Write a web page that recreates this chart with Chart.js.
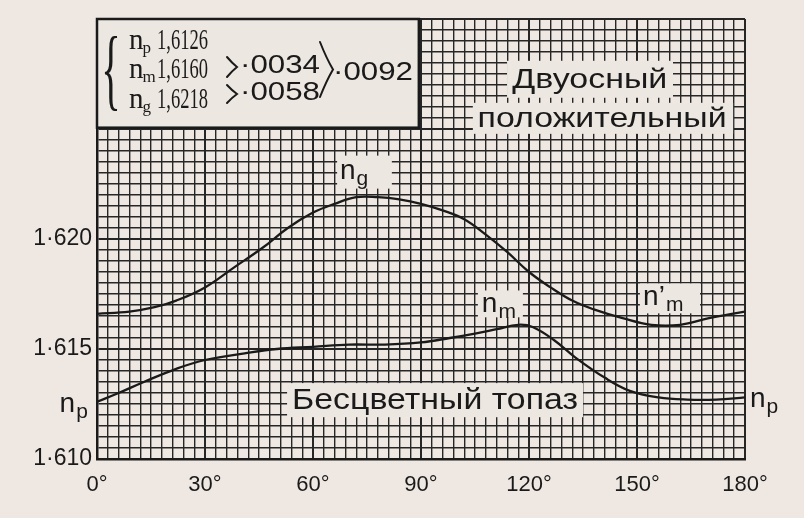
<!DOCTYPE html>
<html><head><meta charset="utf-8">
<script src="https://cdn.jsdelivr.net/npm/chart.js@4.4.1/dist/chart.umd.min.js"></script>
<style>html,body{margin:0;padding:0;background:#efe8e2;}canvas{display:block}</style>
</head><body>
<canvas id="c" width="804" height="518"></canvas>
<script>
// ---- data ----
const angleTicks = [0, 30, 60, 90, 120, 150, 180];
const angleTickLabels = ['0°', '30°', '60°', '90°', '120°', '150°', '180°'];
const indexTicks = [1.610, 1.615, 1.620];
const indexTickLabels = ['1·610', '1·615', '1·620'];

const ngAngles = [0, 9, 16, 22, 30, 38, 46, 53, 60, 66, 72, 78, 84, 90, 96, 102, 108, 114, 120, 126, 132, 138, 146, 154, 162, 170, 180];
const ngValues = [1.6166, 1.6167, 1.6169, 1.6172, 1.6178, 1.6187, 1.6196, 1.6205, 1.6212, 1.6216, 1.6219, 1.6219, 1.6218, 1.6216, 1.6213, 1.6209, 1.6202, 1.6194, 1.6185, 1.6178, 1.6172, 1.6168, 1.6164, 1.6161, 1.6161, 1.6164, 1.6167];

const npAngles = [0, 6, 13, 22, 30, 41, 50, 60, 70, 80, 90, 98, 105, 111, 117, 121, 127, 133, 141, 148, 156, 164, 172, 180];
const npValues = [1.6126, 1.6130, 1.6135, 1.6141, 1.6145, 1.6148, 1.6150, 1.6151, 1.6152, 1.6152, 1.6153, 1.6155, 1.6157, 1.6159, 1.6161, 1.6160, 1.6154, 1.6146, 1.6137, 1.6131, 1.6128, 1.6127, 1.6127, 1.6128];

const legendRows = [['n', 'p', '1,6126'], ['n', 'm', '1,6160'], ['n', 'g', '1,6218']];
const legendDiffs = ['·0034', '·0058'];
const legendTotal = '·0092';

// ---- annotation layout (data units) ----
const textNotes = [
  {text: 'Двуосный', at: [136.9, 1.62723], width: 155, size: 28, box: [[113.9, 1.62810], [160.0, 1.62642]]},
  {text: 'положительный', at: [140.3, 1.62546], width: 249, size: 28, box: [[104.4, 1.62619], [176.7, 1.62478]]},
  {text: 'Бесцветный топаз', at: [93.9, 1.61263], width: 286, size: 29, box: [[52.8, 1.61345], [135.0, 1.61190]]}
];
const indexNotes = [
  {main: 'n', sub: 'g', at: [67.5, 1.62274], box: [[66.7, 1.62379], [81.9, 1.62229]]},
  {main: 'n', sub: 'm', at: [106.9, 1.61667], box: [[105.8, 1.61766], [118.3, 1.61644]]},
  {main: 'n’', sub: 'm', at: [151.7, 1.61698], box: [[150.8, 1.61798], [167.5, 1.61662]]},
  {main: 'n', sub: 'p', at: [181.4, 1.61236]},
  {main: 'n', sub: 'p', at: [-10.4, 1.61213]}
];
const legendBoxCorner = [89.4, 1.62506];

const INK = '#1a1a1a', PAPER = '#efe8e2', BOXPAPER = '#ede7e1', GRID = '#262626';
const SANS = 'Liberation Sans', SERIF = 'Liberation Serif';

function fitText(ctx, text, cx, cy, font, width) {
  ctx.save();
  ctx.font = font; ctx.textBaseline = 'middle'; ctx.textAlign = 'left';
  const w = ctx.measureText(text).width;
  ctx.translate(cx - width / 2, cy);
  ctx.scale(width / w, 1);
  ctx.fillText(text, 0, 0);
  ctx.restore();
}
function fitTextLeft(ctx, text, x, cy, font, width) { fitText(ctx, text, x + width / 2, cy, font, width); }

const paperPlugin = {
  id: 'paper',
  beforeDraw(chart) {
    const c = chart.ctx;
    c.save(); c.fillStyle = PAPER; c.fillRect(0, 0, chart.width, chart.height); c.restore();
  },
  afterDatasetsDraw(chart) {
    const c = chart.ctx, xs = chart.scales.x, ys = chart.scales.y;
    const px = v => xs.getPixelForValue(v), py = v => ys.getPixelForValue(v);
    c.save();
    c.fillStyle = INK;
    textNotes.forEach(n => {
      const x1 = px(n.box[0][0]), y1 = py(n.box[0][1]), x2 = px(n.box[1][0]), y2 = py(n.box[1][1]);
      c.fillStyle = BOXPAPER; c.fillRect(x1, y1, x2 - x1, y2 - y1);
      c.fillStyle = INK;
      fitText(c, n.text, px(n.at[0]), py(n.at[1]), n.size + 'px "' + SANS + '"', n.width);
    });
    indexNotes.forEach(n => {
      if (n.box) {
        const x1 = px(n.box[0][0]), y1 = py(n.box[0][1]), x2 = px(n.box[1][0]), y2 = py(n.box[1][1]);
        c.fillStyle = BOXPAPER; c.fillRect(x1, y1, x2 - x1, y2 - y1);
      }
      c.fillStyle = INK;
      c.textBaseline = 'alphabetic'; c.textAlign = 'left';
      const x = px(n.at[0]), y = py(n.at[1]);
      c.font = '28px "' + SANS + '"';
      c.fillText(n.main, x, y);
      const w = c.measureText(n.main).width;
      c.font = '21px "' + SANS + '"';
      c.fillText(n.sub, x + w + 1, y + 6);
    });
    // legend box
    const L = chart.chartArea.left, T = chart.chartArea.top;
    const R = px(legendBoxCorner[0]), B = py(legendBoxCorner[1]);
    c.fillStyle = BOXPAPER; c.fillRect(L, T, R - L, B - T);
    c.strokeStyle = INK; c.lineWidth = 2.5;
    c.strokeRect(L, T, R - L, B - T);
    c.fillStyle = INK;
    c.save();
    c.font = '90px "' + SERIF + '"'; c.textBaseline = 'middle'; c.textAlign = 'center';
    c.translate(L + 14, T + 56); c.scale(0.45, 1); c.fillText('{', 0, 0);
    c.restore();
    const rowY = [22, 51, 81];
    legendRows.forEach((r, i) => {
      const y = T + rowY[i];
      c.textBaseline = 'alphabetic'; c.textAlign = 'left';
      c.font = '29px "' + SERIF + '"';
      c.fillText(r[0], L + 32, y + 8);
      const w = c.measureText(r[0]).width;
      c.font = '17px "' + SERIF + '"';
      c.fillText(r[1], L + 32 + w - 1, y + 12);
      fitTextLeft(c, r[2], L + 60, y, '30px "' + SERIF + '"', 51);
    });
    c.lineWidth = 2; c.lineCap = 'round';
    const angle = (x, y1, y2, w) => {
      c.beginPath();
      c.moveTo(x, y1);
      c.quadraticCurveTo(x + w * 0.5, y1 + (y2 - y1) * 0.3, x + w, (y1 + y2) / 2);
      c.quadraticCurveTo(x + w * 0.5, y1 + (y2 - y1) * 0.7, x, y2);
      c.stroke();
    };
    angle(L + 130, T + 38, T + 58, 10);
    angle(L + 130, T + 66, T + 84, 10);
    angle(L + 223, T + 23, T + 78, 13);
    fitTextLeft(c, legendDiffs[0], L + 143, T + 47, '25px "' + SANS + '"', 80);
    fitTextLeft(c, legendDiffs[1], L + 143, T + 74, '25px "' + SANS + '"', 80);
    fitTextLeft(c, legendTotal, L + 236, T + 54, '25px "' + SANS + '"', 80);
    c.restore();
  }
};

const xGridTicks = Array.from({length: 61}, (_, i) => i * 3);
const yGridTicks = Array.from({length: 41}, (_, i) => Math.round((1.610 + i * 0.0005) * 10000) / 10000);

new Chart(document.getElementById('c'), {
  type: 'line',
  data: {
    datasets: [
      {label: 'ng', data: ngAngles.map((a, i) => ({x: a, y: ngValues[i]}))},
      {label: 'np', data: npAngles.map((a, i) => ({x: a, y: npValues[i]}))}
    ]
  },
  options: {
    responsive: false, animation: false, devicePixelRatio: 1,
    layout: {padding: {left: 0, top: 19, right: 59, bottom: 0}},
    elements: {
      line: {borderColor: INK, borderWidth: 2.3, tension: 0.4, fill: false},
      point: {radius: 0, hoverRadius: 0}
    },
    plugins: {legend: {display: false}, tooltip: {enabled: false}},
    events: [],
    scales: {
      x: {
        type: 'linear', min: 0, max: 180,
        afterBuildTicks: s => { s.ticks = xGridTicks.map(v => ({value: v})); },
        afterFit: s => { s.height = 59; },
        ticks: {
          autoSkip: false, maxRotation: 0, minRotation: 0, padding: 13, color: INK,
          font: {family: SANS, size: 22},
          callback: v => { const i = angleTicks.indexOf(v); return i >= 0 ? angleTickLabels[i] : ''; }
        },
        grid: {
          drawTicks: false, color: GRID,
          lineWidth: c => (c.tick && c.tick.value % 30 === 0) ? 2 : 1.4
        },
        border: {display: true, color: INK, width: 2.5}
      },
      y: {
        type: 'linear', min: 1.610, max: 1.630,
        afterBuildTicks: s => { s.ticks = yGridTicks.map(v => ({value: v})); },
        afterFit: s => { s.width = 97; },
        ticks: {
          autoSkip: false, padding: 5, color: INK,
          font: {family: SANS, size: 23},
          callback: v => { const i = indexTicks.findIndex(t => Math.abs(t - v) < 1e-7); return i >= 0 ? indexTickLabels[i] : ''; }
        },
        grid: {
          drawTicks: false, color: GRID,
          lineWidth: c => {
            if (!c.tick) return 1.4;
            const k = Math.round((c.tick.value - 1.610) / 0.0005);
            return k % 10 === 0 ? 2 : 1.4;
          }
        },
        border: {display: true, color: INK, width: 2.5}
      }
    }
  },
  plugins: [paperPlugin]
});
</script>
</body></html>
